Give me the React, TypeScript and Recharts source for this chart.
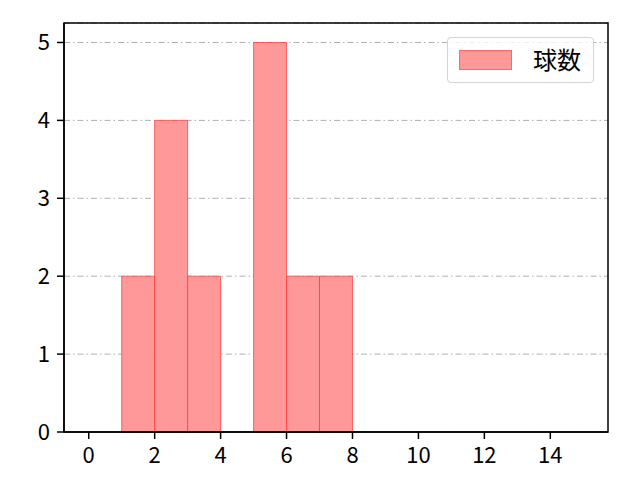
import { ComposedChart, XAxis, YAxis, CartesianGrid, ReferenceArea, Line } from "recharts";

if (typeof document !== "undefined") document.body.style.margin = "0";

const binStarts = [1, 2, 3, 4, 5, 6, 7];
const binCounts = [2, 4, 2, 0, 5, 2, 2];
const xTicks = [0, 2, 4, 6, 8, 10, 12, 14];
const yTicks = [0, 1, 2, 3, 4, 5];
const xDomain = [-0.75, 15.75];
const yDomain = [0, 5.25];
const seriesName = "球数";

const font = "'Noto Sans CJK JP', 'Noto Sans', sans-serif";

const data = binStarts.map((s, i) => ({ start: s, mid: s + 0.5, count: binCounts[i] }));

// axis y is 432, plot left is 64
const XTick = ({ x, payload }: any) => (
  <text x={x} y={463} textAnchor="middle" fill="#000" fontSize={22} fontFamily={font}>
    {payload.value}
  </text>
);

const YTick = ({ y, payload }: any) => (
  <text x={50} y={y + 8} textAnchor="end" fill="#000" fontSize={22} fontFamily={font}>
    {payload.value}
  </text>
);

const App = () => {
  return (
    <div style={{ position: "relative", width: 640, height: 480, fontFamily: font }}>
      <ComposedChart width={640} height={480} data={data} margin={{ top: 23, right: 32, bottom: 18, left: 24 }}>
        <CartesianGrid horizontal vertical={false} stroke="#b0b0b0" strokeDasharray="6 3 1.5 3" />
        <XAxis
          dataKey="mid"
          type="number"
          domain={xDomain}
          ticks={xTicks}
          allowDataOverflow
          stroke="#000"
          strokeWidth={1.5}
          tickSize={7}
          tick={<XTick />}
          height={30}
        />
        <YAxis
          type="number"
          domain={yDomain}
          ticks={yTicks}
          allowDataOverflow
          stroke="#000"
          strokeWidth={1.5}
          tickSize={7}
          tick={<YTick />}
          width={40}
        />
        {data
          .filter((d) => d.count > 0)
          .map((d) => (
            <ReferenceArea
              key={d.start}
              x1={d.start}
              x2={d.start + 1}
              y1={0}
              y2={d.count}
              fill="#ff9999"
              fillOpacity={1}
              stroke="#ff3333"
              strokeOpacity={0.7}
              strokeWidth={1}
            />
          ))}
        <ReferenceArea
          x1={xDomain[0]}
          x2={xDomain[1]}
          y1={yDomain[0]}
          y2={yDomain[1]}
          fill="none"
          stroke="#000"
          strokeWidth={1.5}
        />
        <Line dataKey="count" stroke="none" dot={false} activeDot={false} isAnimationActive={false} />
      </ComposedChart>
      <div
        style={{
          position: "absolute",
          left: 447,
          top: 37,
          width: 147,
          height: 46,
          border: "1px solid #d5d5d5",
          borderRadius: 4,
          background: "rgba(255,255,255,0.8)",
          boxSizing: "border-box",
        }}
      >
        <div
          style={{
            position: "absolute",
            left: 11,
            top: 12,
            width: 53,
            height: 20,
            background: "#ff9999",
            border: "1px solid #ff6666",
            boxSizing: "border-box",
          }}
        />
        <div style={{ position: "absolute", left: 85, top: 6, fontSize: 24, lineHeight: "30px", color: "#000" }}>
          {seriesName}
        </div>
      </div>
    </div>
  );
};

export default App;
